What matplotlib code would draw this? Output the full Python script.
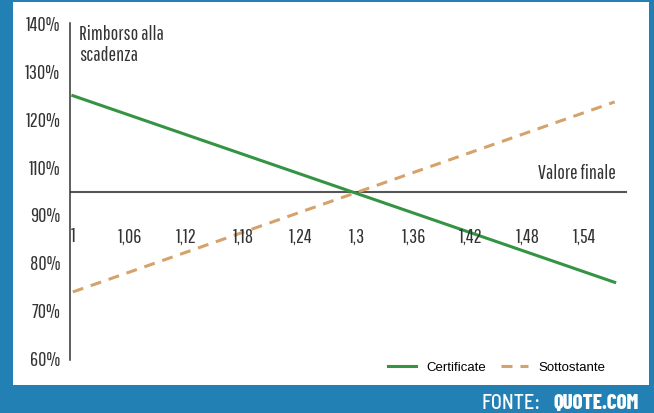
import matplotlib
matplotlib.use("Agg")
import matplotlib.pyplot as plt
from matplotlib.patches import Rectangle
import numpy as np

# data
x_ends = [1.0, 1.572]
certificate = [122.6, 77.9]
sottostante = [75.6, 121.1]
x_ticks = [1.0, 1.06, 1.12, 1.18, 1.24, 1.30, 1.36, 1.42, 1.48, 1.54]
x_tick_labels = ["1", "1,06", "1,12", "1,18", "1,24", "1,3", "1,36", "1,42", "1,48", "1,54"]
y_tick_labels = ["60%", "70%", "80%", "90%", "110%", "120%", "130%", "140%"]

BLUE = "#2380b5"
GREEN = "#349443"
TAN = "#d6a26b"
DARK = "#333333"
NARROW = ["Pathway Gothic One", "Oswald", "Barlow Condensed", "DejaVu Sans"]

W, H = 654, 414
fig = plt.figure(figsize=(W / 100, H / 100), dpi=100, facecolor=BLUE)

# white panel behind the plot
fig.patches.append(Rectangle((13 / W, 1 - 386 / H), (649 - 13) / W, (386 - 3) / H,
                             transform=fig.transFigure, facecolor="white",
                             edgecolor="none", zorder=-5))

ax = fig.add_axes([70 / W, 1 - 361 / H, (627 - 70) / W, (361 - 24) / H])
ax.set_zorder(2)
ax.set_facecolor("none")
ax.set_xlim(0.997, 1.585)
ax.set_ylim(59.3, 140)

for s in ["top", "right", "bottom"]:
    ax.spines[s].set_visible(False)
ax.spines["left"].set_color(DARK)
ax.spines["left"].set_linewidth(1.1)

ax.set_xticks([])
ax.set_yticks(np.linspace(60, 140, len(y_tick_labels)))
ax.set_yticklabels(y_tick_labels, family=NARROW, fontsize=14.5, color=DARK)
ax.tick_params(axis="y", length=0, pad=7)

# "Valore finale" axis
ax.axhline(99.6, color="#555555", lw=1.5, zorder=2)

ax.plot(x_ends, certificate, color=GREEN, lw=2.2, label="Certificate", zorder=3)
ax.plot(x_ends, sottostante, color=TAN, lw=2.2, dashes=(3.6, 2.6),
        label="Sottostante", zorder=3)

for xv, lab in zip(x_ticks, x_tick_labels):
    ax.text(xv, 89.0, lab, ha="center", va="center", family=NARROW,
            fontsize=14.5, color=DARK)

ax.text(1.007, 139.8, "Rimborso alla\nscadenza", ha="left", va="top",
        family=NARROW, fontsize=14.5, color=DARK, linespacing=1.15)
ax.text(1.573, 102.0, "Valore finale", ha="right", va="bottom",
        family=NARROW, fontsize=14.5, color=DARK)

fig.legend(loc="center left", bbox_to_anchor=(388 / W, 1 - 368 / H), ncol=2,
           frameon=False, handlelength=2.1, handletextpad=0.8,
           columnspacing=1.1, borderpad=0, borderaxespad=0,
           prop={"family": "Liberation Sans", "size": 9.5})

fig.text(482 / W, 1 - 409 / H, "FONTE:", ha="left", va="baseline",
         family=["Barlow Semi Condensed", "DejaVu Sans"], fontweight=500,
         fontsize=14.5, color="white")
fig.text(639 / W, 1 - 409 / H, "QUOTE.COM", ha="right", va="baseline",
         family=["Barlow Condensed", "DejaVu Sans"], fontweight=800,
         fontsize=15, color="white")

fig.savefig("out.png", dpi=100, facecolor=BLUE)
